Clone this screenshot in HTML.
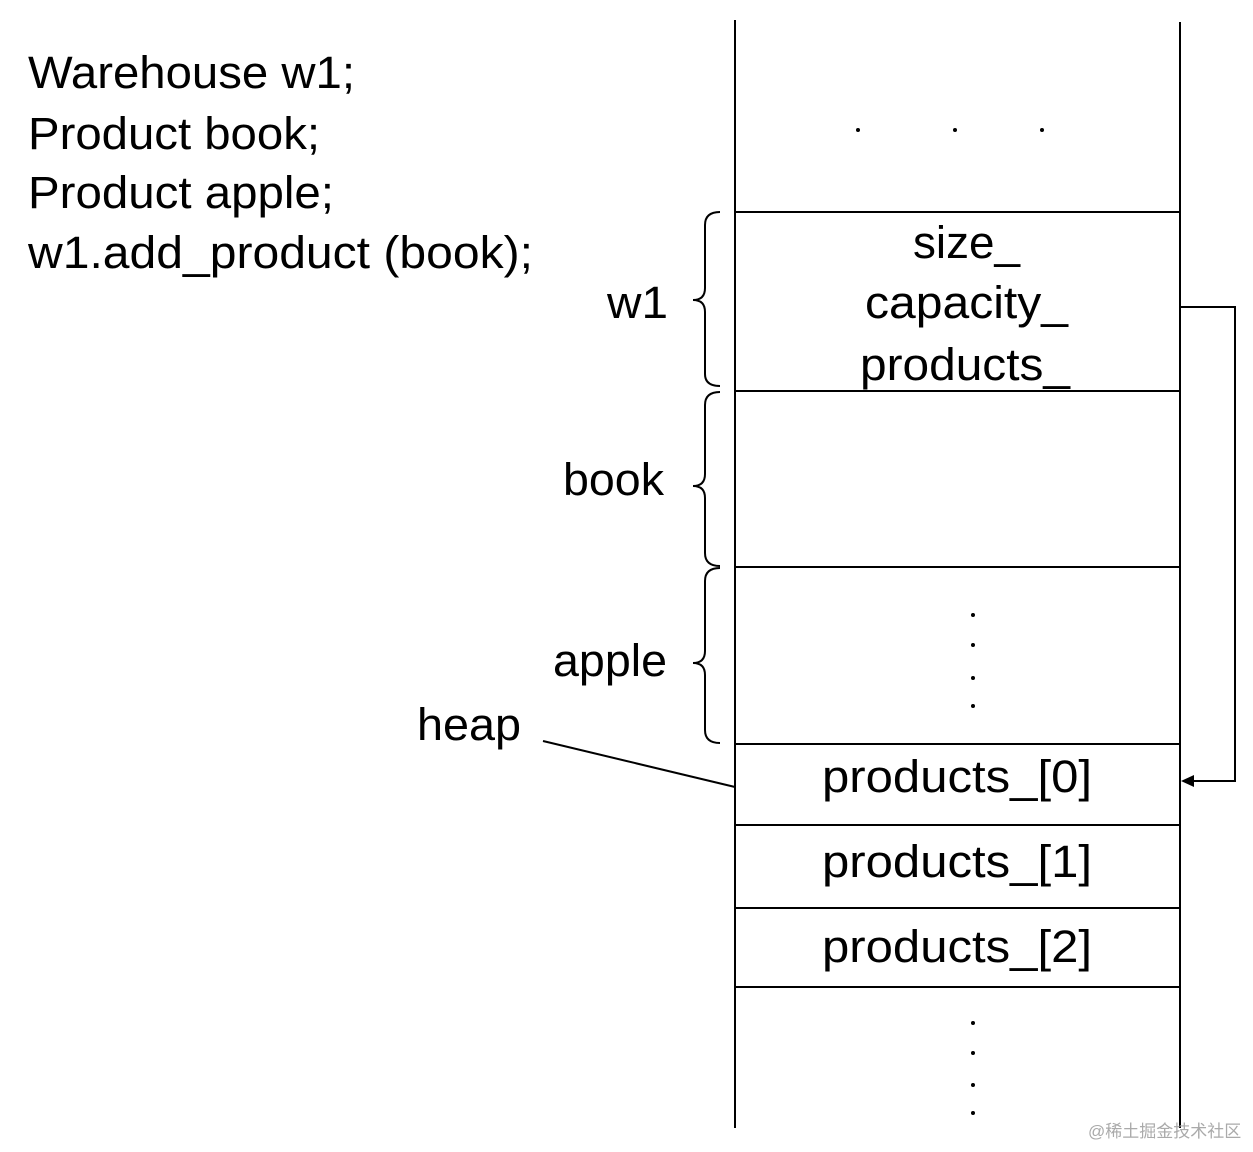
<!DOCTYPE html>
<html><head><meta charset="utf-8"><style>
html,body{margin:0;padding:0;background:#fff;}
svg text{font-family:"Liberation Sans","Noto Sans CJK SC",sans-serif;fill:#000;}
</style></head><body>
<svg width="1253" height="1147" viewBox="0 0 1253 1147" xmlns="http://www.w3.org/2000/svg">
<g font-size="45" lengthAdjust="spacingAndGlyphs">
<text x="28" y="88" textLength="327" lengthAdjust="spacingAndGlyphs">Warehouse w1;</text>
<text x="28" y="149" textLength="292" lengthAdjust="spacingAndGlyphs">Product book;</text>
<text x="28" y="208" textLength="306" lengthAdjust="spacingAndGlyphs">Product apple;</text>
<text x="28" y="268" textLength="505" lengthAdjust="spacingAndGlyphs">w1.add_product (book);</text>
<text x="607" y="318" textLength="61" lengthAdjust="spacingAndGlyphs">w1</text>
<text x="563" y="495" textLength="101" lengthAdjust="spacingAndGlyphs">book</text>
<text x="553" y="676" textLength="114" lengthAdjust="spacingAndGlyphs">apple</text>
<text x="417" y="740" textLength="104" lengthAdjust="spacingAndGlyphs">heap</text>
<text x="913" y="258" textLength="107" lengthAdjust="spacingAndGlyphs">size_</text>
<text x="865" y="318" textLength="203" lengthAdjust="spacingAndGlyphs">capacity_</text>
<text x="860" y="380" textLength="210" lengthAdjust="spacingAndGlyphs">products_</text>
<text x="822" y="792" textLength="270" lengthAdjust="spacingAndGlyphs">products_[0]</text>
<text x="822" y="877" textLength="270" lengthAdjust="spacingAndGlyphs">products_[1]</text>
<text x="822" y="962" textLength="270" lengthAdjust="spacingAndGlyphs">products_[2]</text>
</g>
<g stroke="#000" stroke-width="2" fill="none">
<line x1="735" y1="20" x2="735" y2="1128"/>
<line x1="1180" y1="22" x2="1180" y2="1128"/>
<line x1="735" y1="212" x2="1180" y2="212"/>
<line x1="735" y1="391" x2="1180" y2="391"/>
<line x1="735" y1="567" x2="1180" y2="567"/>
<line x1="735" y1="744" x2="1180" y2="744"/>
<line x1="735" y1="825" x2="1180" y2="825"/>
<line x1="735" y1="908" x2="1180" y2="908"/>
<line x1="735" y1="987" x2="1180" y2="987"/>
<polyline points="1180,307 1235,307 1235,781 1192,781"/>
<line x1="543" y1="741" x2="735" y2="787"/>
<path d="M720,212 Q705,212 705,225 L705,288 Q705,300 693,300 Q705,300 705,312 L705,374 Q705,386 720,386"/>
<path d="M720,392 Q705,392 705,405 L705,474 Q705,486 693,486 Q705,486 705,498 L705,553 Q705,566 720,566"/>
<path d="M720,568 Q705,568 705,581 L705,651 Q705,663 693,663 Q705,663 705,675 L705,730 Q705,743 720,743"/>
</g>
<polygon points="1181,781 1194,775 1194,787" fill="#000"/>
<g fill="#000">
<circle cx="858" cy="130" r="2"/><circle cx="955" cy="130" r="2"/><circle cx="1042" cy="130" r="2"/>
<circle cx="973" cy="615" r="2"/><circle cx="973" cy="645" r="2"/><circle cx="973" cy="678" r="2"/><circle cx="973" cy="706" r="2"/>
<circle cx="973" cy="1023" r="2"/><circle cx="973" cy="1053" r="2"/><circle cx="973" cy="1085" r="2"/><circle cx="973" cy="1113" r="2"/>
</g>
<text x="1088" y="1137" font-size="17" style="fill:#aaa">@稀土掘金技术社区</text>
</svg>
</body></html>
